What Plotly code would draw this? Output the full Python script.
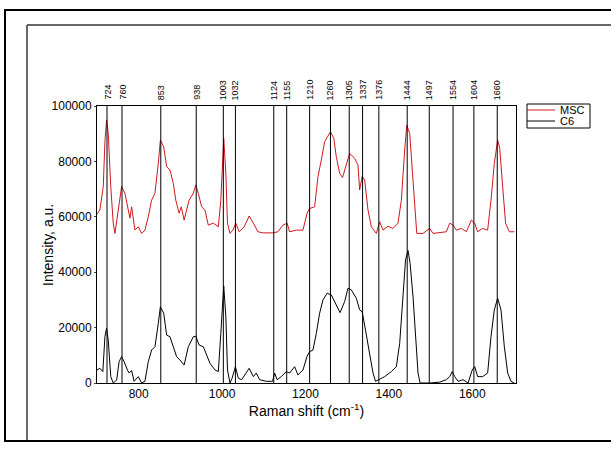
import plotly.graph_objects as go

# Raman shift positions (cm^-1) and intensities (a.u.)
msc_x = [700, 707, 715, 719, 723, 727, 733, 739, 743, 749, 755, 759, 767, 773, 779, 783, 791, 799, 807, 815,
         823, 831, 839, 847, 852, 860, 867, 875, 883, 889, 897, 902, 909, 913, 921, 931, 937, 943, 951, 959,
         967, 979, 991, 997, 1001, 1004, 1009, 1013, 1019, 1026, 1033, 1041, 1053, 1065, 1075, 1086, 1098,
         1122, 1134, 1146, 1156, 1162, 1178, 1194, 1204, 1210, 1222, 1230, 1238, 1246, 1260, 1268, 1274,
         1282, 1289, 1296, 1306, 1318, 1326, 1330, 1336, 1342, 1350, 1358, 1370, 1378, 1386, 1398, 1410,
         1422, 1430, 1438, 1443, 1450, 1456, 1462, 1467, 1482, 1498, 1506, 1538, 1546, 1554, 1562, 1574,
         1586, 1598, 1606, 1613, 1625, 1637, 1645, 1653, 1661, 1666, 1673, 1680, 1689, 1701]
msc_y = [61000, 62500, 70900, 87100, 95000, 90100, 70900, 57700, 54000, 60000, 67300, 70900, 68500, 64000,
         59500, 63600, 55200, 56400, 54000, 55200, 60000, 66000, 68500, 79300, 87700, 85300, 78100, 76900,
         72100, 66000, 61300, 63600, 58800, 61300, 66000, 68500, 71500, 68500, 63600, 62400, 57000, 57700,
         56400, 66000, 78000, 88300, 75700, 57700, 54000, 55200, 57700, 54600, 56400, 60300, 57700, 54600,
         54200, 54200, 54600, 57000, 57700, 54600, 55200, 55200, 61300, 63000, 63600, 74500, 80500, 87100,
         90700, 88300, 81700, 75700, 74200, 78100, 82900, 81100, 78700, 69700, 74700, 73300, 62400, 56400,
         54000, 58200, 55200, 56600, 55800, 57700, 66000, 84100, 93100, 90100, 78100, 66000, 54000, 54000,
         55800, 54000, 54600, 57700, 57000, 55200, 55800, 54600, 58800, 57700, 54600, 55800, 55200, 66000,
         79300, 87700, 84700, 70900, 57700, 54600, 54600]

c6_x = [700, 707, 714, 719, 723, 727, 733, 739, 747, 753, 759, 765, 773, 777, 783, 789, 799, 807, 815, 823,
        831, 839, 847, 852, 860, 867, 875, 883, 891, 899, 909, 919, 931, 937, 945, 955, 963, 971, 983, 991,
        997, 1001, 1004, 1009, 1013, 1019, 1024, 1032, 1039, 1047, 1057, 1065, 1075, 1082, 1090, 1106, 1121,
        1126, 1132, 1142, 1154, 1162, 1174, 1182, 1194, 1204, 1210, 1218, 1226, 1234, 1242, 1252, 1262, 1274,
        1283, 1294, 1302, 1310, 1322, 1330, 1336, 1344, 1354, 1362, 1368, 1376, 1390, 1406, 1418, 1426, 1434,
        1440, 1446, 1451, 1458, 1464, 1470, 1475, 1498, 1522, 1538, 1546, 1552, 1558, 1566, 1578, 1590, 1600,
        1606, 1613, 1625, 1637, 1645, 1653, 1661, 1669, 1677, 1685, 1693, 1701]
c6_y = [4700, 5300, 4100, 16700, 19700, 15500, 2300, 0, 1000, 7700, 9500, 7700, 4700, 3600, 4500, 600, 2300,
        0, 600, 7700, 11900, 13100, 21500, 27500, 25200, 17300, 16700, 13100, 9500, 8300, 6500, 13100, 16700,
        16900, 13700, 13100, 10100, 7100, 4700, 4100, 17900, 28800, 35000, 24000, 4700, 0, 1700, 5900, 1700,
        1200, 3600, 5300, 2300, 3600, 1200, 600, 600, 3600, 1200, 2300, 4100, 3600, 5900, 2900, 4700, 9700,
        11300, 11900, 17900, 25200, 30000, 32400, 31800, 28200, 25400, 29400, 34200, 33600, 30600, 26400,
        25700, 19100, 10700, 3600, 600, 1200, 2300, 4100, 5900, 14300, 31200, 44400, 47800, 43200, 31200,
        15500, 3600, 0, 0, 300, 1200, 2300, 4100, 2300, 600, 1200, 0, 4700, 5900, 2300, 2300, 3600, 16700,
        26400, 30600, 26400, 13100, 3600, 600, 0]

peaks = [724, 760, 853, 938, 1003, 1032, 1124, 1155, 1210, 1260, 1305, 1337, 1376, 1444, 1497, 1554, 1604, 1660]
x_ticks = [800, 1000, 1200, 1400, 1600]
y_ticks = [0, 20000, 40000, 60000, 80000, 100000]
series_names = ["MSC", "C6"]
series_colors = ["#d0181e", "#000000"]

FONT = "Arial, Liberation Sans, sans-serif"

# plot area in pixels (for paper-coordinate decorations)
L, R, T, B = 97, 516, 106, 383
def px(X):
    return (X - L) / (R - L)
def py(Y):
    return (B - Y) / (B - T)

fig = go.Figure()
for xs, ys, nm, col in [(msc_x, msc_y, series_names[0], series_colors[0]),
                        (c6_x, c6_y, series_names[1], series_colors[1])]:
    fig.add_trace(go.Scatter(x=xs, y=ys, mode="lines", name=nm,
                             line=dict(color=col, width=1)))

shapes = []
annotations = []
for p in peaks:
    shapes.append(dict(type="line", xref="x", yref="y", x0=p, x1=p, y0=0, y1=100000,
                       line=dict(color="black", width=1), layer="above"))
    annotations.append(dict(x=p, xref="x", y=1, yref="paper", text=str(p), showarrow=False,
                            textangle=-90, xanchor="center", yanchor="bottom", yshift=4,
                            font=dict(family=FONT, size=9, color="black")))

# outer frames
shapes.append(dict(type="rect", xref="paper", yref="paper",
                   x0=px(5), x1=px(640), y0=py(441), y1=py(10),
                   line=dict(color="black", width=2), layer="below"))
shapes.append(dict(type="line", xref="paper", yref="paper",
                   x0=px(27), x1=px(640), y0=py(25), y1=py(25),
                   line=dict(color="#666666", width=2), layer="below"))
shapes.append(dict(type="line", xref="paper", yref="paper",
                   x0=px(27), x1=px(27), y0=py(25), y1=py(440),
                   line=dict(color="#666666", width=2), layer="below"))

# custom compact legend
shapes.append(dict(type="rect", xref="paper", yref="paper",
                   x0=px(527), x1=px(590), y0=py(128), y1=py(104),
                   line=dict(color="black", width=1), fillcolor="white", layer="above"))
for i, (nm, col) in enumerate(zip(series_names, series_colors)):
    yy = 110 + i * 11
    shapes.append(dict(type="line", xref="paper", yref="paper",
                       x0=px(527), x1=px(555), y0=py(yy), y1=py(yy),
                       line=dict(color=col, width=1), layer="above"))
    annotations.append(dict(x=px(558), y=py(yy), xref="paper", yref="paper", text=nm,
                            showarrow=False, xanchor="left", yanchor="middle",
                            font=dict(family=FONT, size=11, color="black")))

# y-axis title
annotations.append(dict(x=px(48), y=py(245), xref="paper", yref="paper", text="Intensity, a.u.",
                        showarrow=False, textangle=-90, xanchor="center", yanchor="middle",
                        font=dict(family=FONT, size=14, color="black")))

fig.update_layout(
    width=611, height=449,
    margin=dict(l=L, r=611 - R, t=T, b=449 - B),
    paper_bgcolor="white", plot_bgcolor="white",
    font=dict(family=FONT, size=12, color="black"),
    showlegend=False,
    xaxis=dict(range=[700, 1705], tickvals=x_ticks, showgrid=False, zeroline=False,
               showline=True, linecolor="black", linewidth=1, mirror=True,
               ticks="", tickfont=dict(size=12), title=dict(text="Raman shift (cm<sup>-1</sup>)",
               font=dict(size=14), standoff=0)),
    yaxis=dict(range=[0, 100000], tickvals=y_ticks, tickformat="d", showgrid=False, zeroline=False,
               showline=True, linecolor="black", linewidth=1, mirror=True,
               ticks="outside", ticklen=2, tickfont=dict(size=12)),
    shapes=shapes,
    annotations=annotations,
)

fig.write_html("out.html")
